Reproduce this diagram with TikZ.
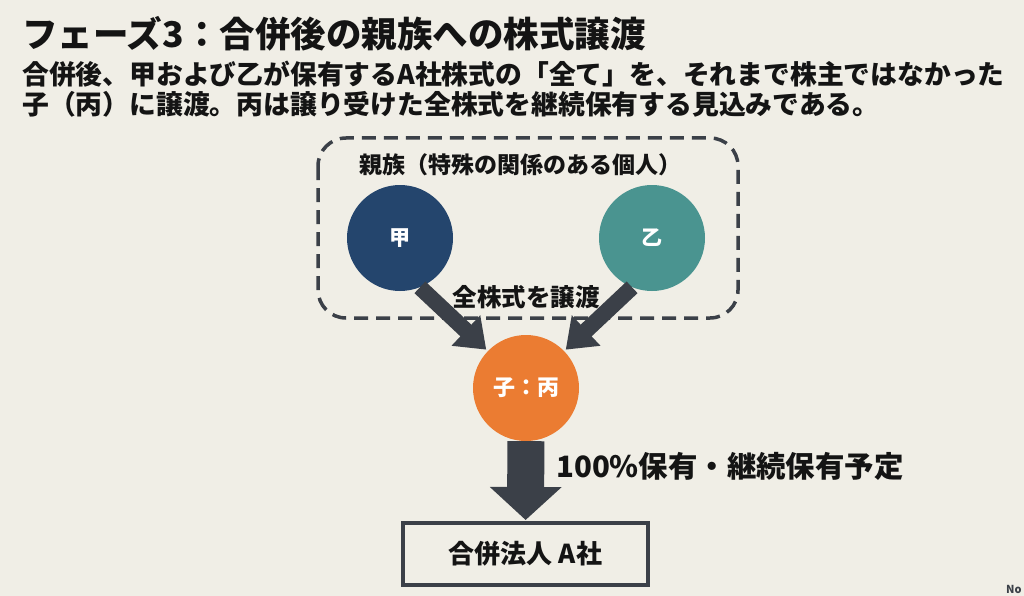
\documentclass[tikz,border=0pt]{standalone}
\usepackage{fontspec}
\setmainfont{Noto Sans CJK JP}
\usetikzlibrary{arrows.meta}
\definecolor{bgc}{HTML}{F0EEE6}
\definecolor{darkc}{HTML}{3B4048}
\definecolor{navyc}{HTML}{24456D}
\definecolor{tealc}{HTML}{4A9490}
\definecolor{orangec}{HTML}{EB7C32}
\definecolor{textc}{HTML}{141414}
\newcommand{\fs}[1]{\fontsize{#1}{#1}\selectfont}
\begin{document}
\begin{tikzpicture}[x=1pt,y=-1pt,
  person/.style={circle,inner sep=0pt,minimum size=106pt,text=white,font=\fs{21}\bfseries},
  thinarrow/.style={draw=darkc,line width=16pt,-{Triangle[width=40pt,length=28pt]}},
  bigarrow/.style={draw=darkc,line width=37pt,-{Triangle[width=70pt,length=33pt]}},
  label/.style={text=textc,inner sep=0pt,font=\bfseries},
  groupbox/.style={draw=darkc,line width=3.5pt,dash pattern=on 14pt off 8pt,rounded corners=28pt},
  corpbox/.style={draw=darkc,line width=4pt,fill=bgc,minimum width=245pt,minimum height=62pt,inner sep=0pt,text=textc,font=\fs{26}\bfseries}
]
\fill[bgc] (0,0) rectangle (1024,596);
\useasboundingbox (0,0) rectangle (1024,596);

% title and description
\node[label,anchor=west,font=\fs{35.5}\bfseries] (title) at (22,34) {フェーズ3：合併後の親族への株式譲渡};
\node[label,anchor=west,font=\fs{26.8}\bfseries] (desc1) at (22,74) {合併後、甲および乙が保有するA社株式の「全て」を、それまで株主ではなかった};
\node[label,anchor=west,font=\fs{26.8}\bfseries] (desc2) at (22,104) {子（丙）に譲渡。丙は譲り受けた全株式を継続保有する見込みである。};

% group box
\draw[groupbox] (318,138) rectangle (738,318);
\node[label,font=\fs{23}\bfseries] (grp) at (520,165) {親族（特殊の関係のある個人）};

% persons
\node[person,fill=navyc] (ka) at (400,238) {甲};
\node[person,fill=tealc] (otsu) at (652,238) {乙};
\node[person,fill=orangec,font=\fs{22}\bfseries] (hei) at (526,388) {子：丙};

% arrows
\draw[thinarrow,shorten >=2pt] (ka.-68) -- (hei.136);
\draw[thinarrow,shorten >=2pt] (otsu.-112) -- (hei.44);
\node[label,font=\fs{24.5}\bfseries] (xfer) at (526,297) {全株式を譲渡};

% corporation
\node[corpbox] (corp) at (525.5,554) {合併法人 A社};
\draw[bigarrow,shorten >=1pt] (hei) -- (corp);
\node[label,anchor=west,font=\fs{29.4}\bfseries] (hold) at (556,466) {100\%保有・継続保有予定};

% watermark
\node[anchor=west,inner sep=0pt,text=darkc,font=\fs{11}\bfseries] (wm) at (1006,589) {No};
\end{tikzpicture}
\end{document}
